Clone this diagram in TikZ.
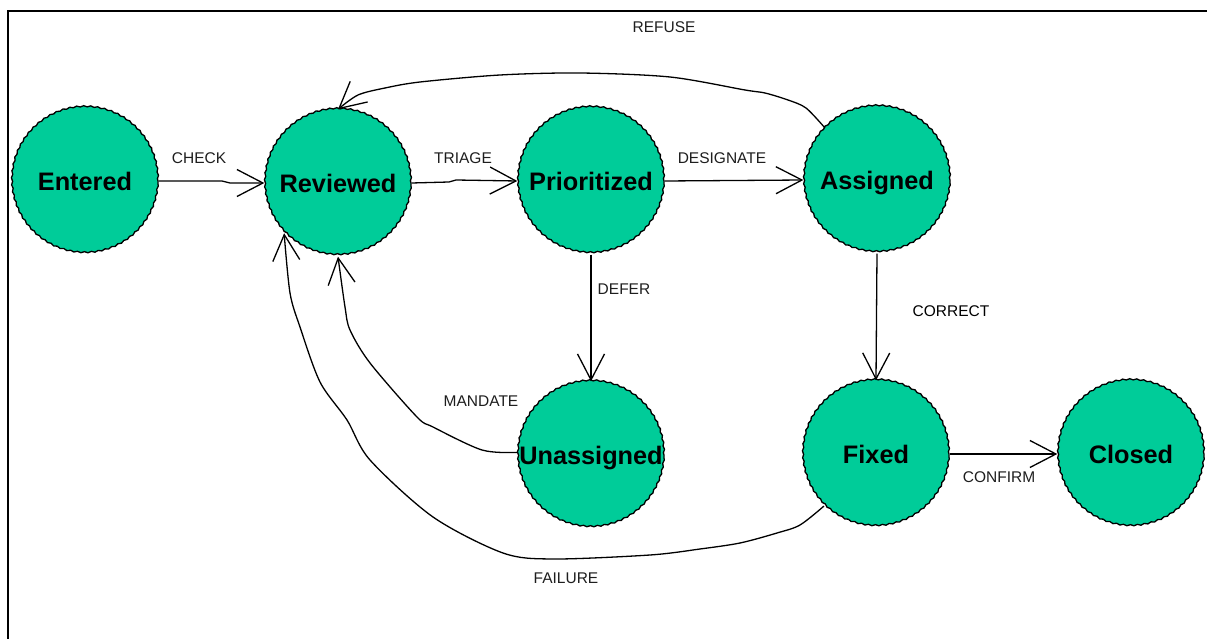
\documentclass[tikz,border=0pt]{standalone}
\usepackage{fontspec}
\setmainfont{Liberation Sans}
\usetikzlibrary{arrows.meta,decorations.pathmorphing}
\definecolor{stategreen}{HTML}{00CC99}
\definecolor{labelgray}{HTML}{1E1E1E}
\tikzset{
  state/.style={circle, draw=black, line width=1.3bp, fill=stategreen,
    minimum size=146bp, inner sep=0pt, text height=18.5bp, text depth=0pt,
    decorate, decoration={snake, amplitude=0.6bp, segment length=7bp},
    font=\fontsize{25.3bp}{30bp}\selectfont\bfseries},
  conn/.style={line width=1.3bp, -{Straight Barb[length=26bp,width=27bp,line width=1.3bp]}},
  lbl/.style={text=labelgray, font=\fontsize{15.5bp}{18bp}\selectfont, inner sep=0pt}
}
\begin{document}
\begin{tikzpicture}[x=1bp,y=-1bp]
\useasboundingbox (0,0) rectangle (1207,639);
\draw[line width=1.5bp] (8,639) -- (8,11) -- (1207,11);

\node[state] (ent) at (85,181) {Entered};
\node[state] (rev) at (338,183) {Reviewed};
\node[state] (pri) at (591,181) {Prioritized};
\node[state] (asg) at (877,180) {Assigned};
\node[state] (una) at (591,455) {Unassigned};
\node[state] (fix) at (876,454) {Fixed};
\node[state] (clo) at (1131,454) {Closed};

% CHECK
\draw[conn] (ent.east) -- (222,181) -- (230,183) -- (rev.west);
\node[lbl] (lcheck) at (199,158) {CHECK};
% TRIAGE
\draw[conn] (rev.east) -- (449,182) -- (456,180) -- (pri.west);
\node[lbl] (ltriage) at (463,158) {TRIAGE};
% DESIGNATE
\draw[conn] (pri.east) -- (asg.west);
\node[lbl] (ldesig) at (722,158) {DESIGNATE};
% REFUSE
\draw[conn] plot[smooth, tension=0.5] coordinates {(asg.135) (806,108) (788,100) (765,93) (745,90) (670,77) (580,73) (500,75) (420,82) (385,88) (358,95) (rev.north)};
\node[lbl] (lrefuse) at (664,27) {REFUSE};
% DEFER
\draw[conn] (pri.south) -- (una.north);
\node[lbl] (ldefer) at (624,289) {DEFER};
% CORRECT
\draw[conn] (asg.south) -- (fix.north);
\node[lbl, text=black] (lcorrect) at (951,311) {CORRECT};
% CONFIRM
\draw[conn] (fix.east) -- (clo.west);
\node[lbl] (lconfirm) at (999,477) {CONFIRM};
% MANDATE
\draw[conn] plot[smooth, tension=0.5] coordinates {(una.178) (482,450) (433,427) (417,417) (370,363) (350,330) (345,307) (rev.south)};
\node[lbl] (lmandate) at (481,401) {MANDATE};
% FAILURE
\draw[conn] plot[smooth, tension=0.5] coordinates {(fix.225) (800,525) (777,533) (740,543) (700,549) (650,555) (553,559) (503,553) (433,517) (370,460) (347,420) (320,382) (300,327) (290,293) (rev.223)};
\node[lbl] (lfailure) at (566,578) {FAILURE};
\end{tikzpicture}
\end{document}
